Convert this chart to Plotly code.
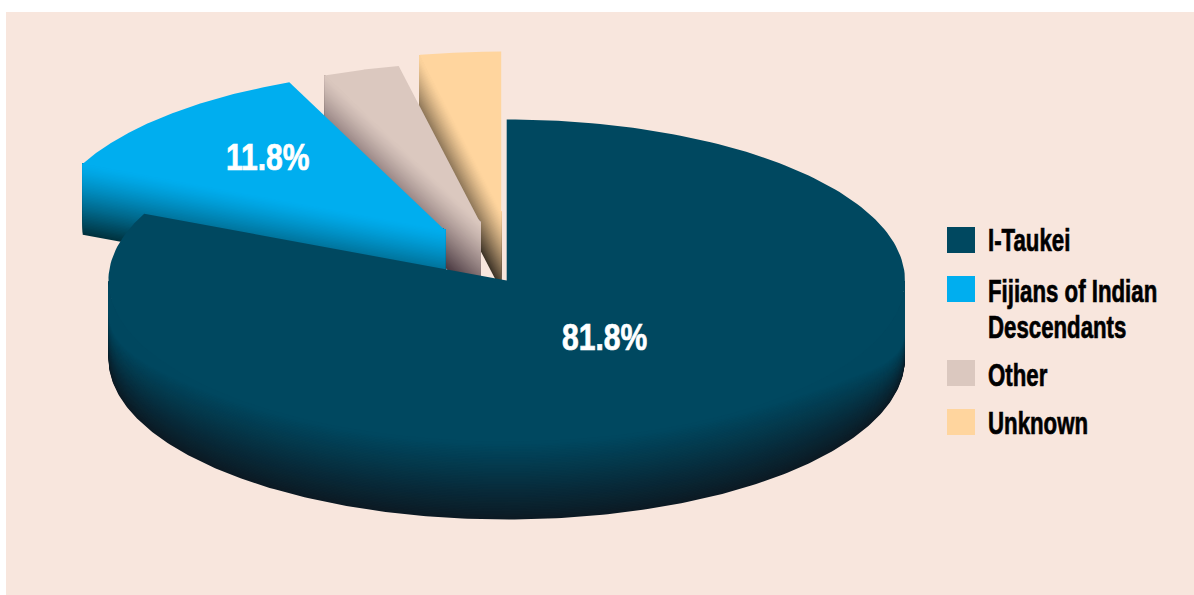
import numpy as np
import plotly.graph_objects as go

# ---- data ----
categories = ["I-Taukei", "Fijians of Indian<br>Descendants", "Other", "Unknown"]
shares = [81.8, 11.8, 3.1, 3.3]
share_labels = ["81.8%", "11.8%"]

# ---- style / geometry ----
top_colors = ["#004860", "#00AEEF", "#DBC8BF", "#FFD59E"]
dark_colors = ["#0C1A24", "#00323E", "#4B3A42", "#3E3428"]
explode = [(0, 0), (-61.5, -50), (-26, -57), (-5.5, -68)]
depths = [78, 71, 78, 78]
CX, CY, RX, RY = 506.7, 280.5, 398.3, 161
BG = "#F8E6DD"
FONT = "Liberation Sans"
N_BANDS = 48
INSET = 2.5   # wall polygons start slightly under the top face, hiding seams


def mix(a, b, t):
    ca = [int(a[i:i + 2], 16) for i in (1, 3, 5)]
    cb = [int(b[i:i + 2], 16) for i in (1, 3, 5)]
    return "rgb(%d,%d,%d)" % tuple(round(x + (y - x) * t) for x, y in zip(ca, cb))


def arc(a0, a1, ox, oy, n=240):
    th = np.radians(np.linspace(a0, a1, n))
    return CX + ox + RX * np.sin(th), CY + oy - RY * np.cos(th), th


def poly(fig, x, y, color):
    fig.add_trace(go.Scatter(
        x=np.asarray(x), y=np.asarray(y), mode="lines", fill="toself",
        fillcolor=color, line=dict(width=0, color=color),
        hoverinfo="skip", showlegend=False))


fig = go.Figure()

cum = np.concatenate([[0], np.cumsum(shares)]) / np.sum(shares) * 360
order = [3, 2, 1, 0]   # painter's order: back slices first

for i in order:
    a0, a1 = cum[i], cum[i + 1]
    ox, oy = explode[i]
    d = depths[i]
    ax, ay = CX + ox, CY + oy
    ex, ey, th = arc(a0, a1, ox, oy)
    if i == 0:
        # outer curved wall (front half only), shaded by depth
        wx, wy, wth = arc(max(a0, 90), min(a1, 270), ox, oy)
        side = np.where(np.sin(wth) > 0, 0.58, 0.35)
        d0 = 0.02 + side * np.abs(np.sin(wth)) ** 8
        inner = wy - INSET * np.abs(np.cos(wth))
        for k in range(N_BANDS, 0, -1):
            c = k / N_BANDS
            off = d * (d0 + (1 - d0) * c)
            poly(fig, np.r_[wx, wx[::-1]], np.r_[inner, (wy + off)[::-1]],
                 mix(top_colors[i], dark_colors[i], c))
    else:
        # straight wall below the slice's leading radial edge
        for k in range(N_BANDS, 0, -1):
            c = k / N_BANDS
            off = d * c
            poly(fig,
                 [ex[0], ax, ax, ex[0], ex[0]],
                 [ey[0], ay - INSET / 2, ay + off, ey[0] + off, ey[0]],
                 mix(top_colors[i], dark_colors[i], c ** 1.3))
    poly(fig, np.r_[ax, ex, ax], np.r_[ay, ey, ay], top_colors[i])

annotations = []
for txt, lx, ly in zip(share_labels, [560, 224], [337, 157]):
    annotations.append(dict(x=lx, y=ly, text="<b>%s</b>" % txt, showarrow=False,
                            xanchor="left", yanchor="middle",
                            font=dict(size=36, color="white", family=FONT)))

swatch_y = [227, 276, 360, 409]
label_y = [240, 291, 375, 423]
LINE_H = 36
shapes = []
for name, col, sy, ly in zip(categories, top_colors, swatch_y, label_y):
    shapes.append(dict(type="rect", xref="x", yref="y", x0=947, x1=975, y0=sy, y1=sy + 26,
                       fillcolor=col, line=dict(width=0)))
    for j, line in enumerate(name.split("<br>")):
        annotations.append(dict(x=986, y=ly + j * LINE_H, text="<b>%s</b>" % line, showarrow=False,
                                xanchor="left", yanchor="middle", align="left",
                                font=dict(size=32, color="#000000", family=FONT)))

fig.update_layout(
    width=1194, height=595, autosize=False,
    margin=dict(l=6, r=0, t=12, b=0, pad=0),
    paper_bgcolor="white", plot_bgcolor=BG,
    xaxis=dict(range=[6, 1194], visible=False, fixedrange=True),
    yaxis=dict(range=[595, 12], visible=False, fixedrange=True),
    showlegend=False, shapes=shapes, annotations=annotations,
)

# no page margin; condense and embolden the text (no condensed heavy font is installed)
post = """
document.body.style.margin = '0';
document.documentElement.style.overflow = 'hidden';
var gd = document.getElementById('{plot_id}');
function condense() {
  gd.querySelectorAll('text.annotation-text').forEach(function (t) {
    var b = t.getBBox();
    var pct = /%/.test(t.textContent);
    var f = pct ? 0.835 : 0.695;
    t.setAttribute('transform',
      'translate(' + b.x + ',0) scale(' + f + ',1) translate(' + (-b.x) + ',0)');
    t.style.stroke = pct ? '#ffffff' : '#000000';
    t.style.strokeWidth = '0.7px';
  });
}
condense();
setTimeout(condense, 50);
gd.on('plotly_afterplot', condense);
"""
fig.write_html("out.html", post_script=post, config={"displayModeBar": False})
